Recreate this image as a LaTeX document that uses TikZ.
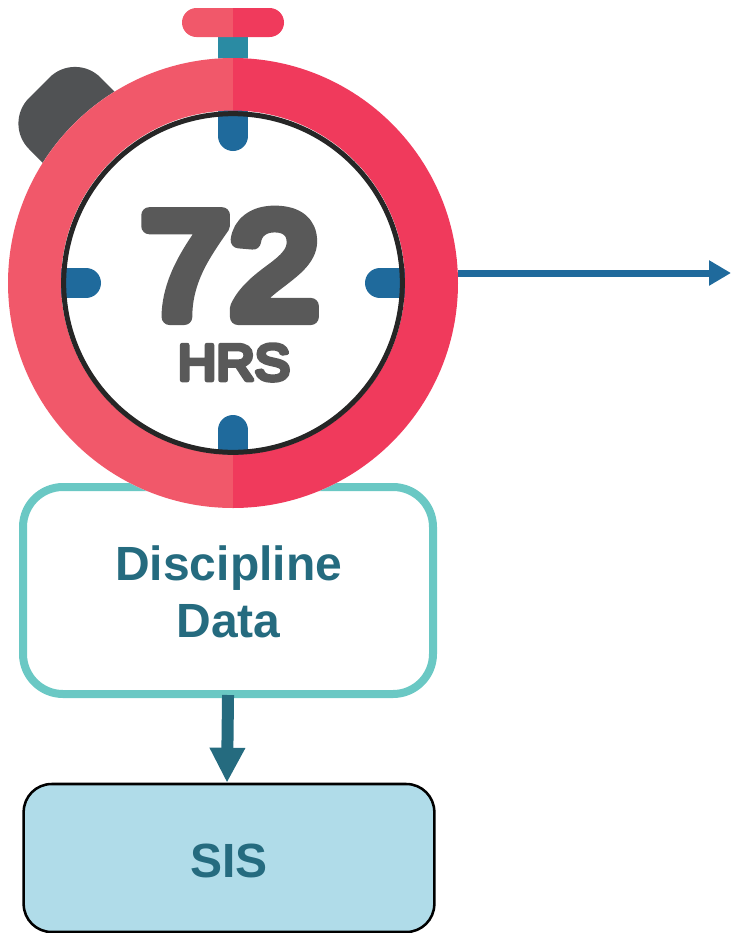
\documentclass[tikz,border=0pt]{standalone}
\usepackage{fontspec}
\setmainfont{Liberation Sans}
\newfontfamily\dialfont[FakeStretch=1.08]{Liberation Sans}
\newfontfamily\hrsfont[FakeStretch=1.05]{Liberation Sans}
\usetikzlibrary{arrows.meta, calc}
\definecolor{ringL}{HTML}{F1586A}
\definecolor{ringR}{HTML}{F03A5C}
\definecolor{stemC}{HTML}{2A8BA3}
\definecolor{tickC}{HTML}{1F6A9C}
\definecolor{knobC}{HTML}{505254}
\definecolor{numC}{HTML}{595959}
\definecolor{dataC}{HTML}{6AC8C4}
\definecolor{arrowC}{HTML}{256B7F}
\definecolor{sisC}{HTML}{B0DCE9}
\newcommand{\roundstroke}[1]{\special{pdf:code 2 Tr #1 w 1 j 1 J 0.349 0.349 0.349 RG}}
\tikzset{
  boxtext/.style = {font=\bfseries\fontsize{36}{43.5}\selectfont, text=arrowC, align=center, inner sep=0pt},
  dialtext/.style = {text=numC, inner sep=0pt, anchor=base},
  tickmark/.style = {draw=tickC, line width=22.5pt, line cap=round},
}

\begin{document}
\begin{tikzpicture}[x=.75pt, y=.75pt, line join=round]
\useasboundingbox (0,0) rectangle (731,-933);
\fill[knobC, rounded corners=27pt] (75,-52) -- (3.5,-123.5) -- (90,-210) -- (161.5,-138.5) -- cycle;
\fill[stemC] (218,-30) rectangle (248,-70);
\fill[ringL] (233,-8) -- (196.5,-8) arc[start angle=90, end angle=270, radius=10.875pt] -- (233,-37) -- cycle;
\fill[ringR] (233,-8) -- (269.5,-8) arc[start angle=90, end angle=-90, radius=10.875pt] -- (233,-37) -- cycle;

\node[draw=dataC, fill=white, line width=6pt, rounded corners=30pt, minimum width=307.5pt, minimum height=155.25pt] (data) at (228,-590.5) {};
\node[boxtext, yshift=-1pt, xshift=.5pt] at (data) {Discipline\\Data};
\node[draw=black, fill=sisC, line width=1.9pt, rounded corners=21pt, minimum width=308pt, minimum height=111pt] (sis) at (229,-858) {};
\node[boxtext, yshift=-2pt] at (sis) {SIS};
\draw[draw=arrowC, line width=9pt, -{Triangle[length=26.25pt, width=25pt]}, shorten <=-2.25pt] (data.south) -- ($(sis.north)+(-2,0)$);

\node[circle, fill=white, inner sep=0pt, minimum size=337.5pt] (dial) at (233,-283) {};
\coordinate (out) at (731,-273);
\draw[draw=tickC, line width=5.25pt, -{Triangle[length=16.5pt, width=18pt]}] (dial.east |- out) -- (out);
\foreach \a in {0,90,180,270}
  \draw[tickmark] ($(dial.center)+(\a:172)$) -- ($(dial.center)+(\a:147)$);
\fill[ringL] (233,-58) arc[start angle=90, end angle=270, radius=168.75pt] -- (233,-454.5) arc[start angle=270, end angle=90, radius=129pt] -- cycle;
\fill[ringR] (233,-58) arc[start angle=90, end angle=-90, radius=168.75pt] -- (233,-454.5) arc[start angle=-90, end angle=90, radius=129pt] -- cycle;
\draw[line width=3.75pt, draw=black!85] (dial.center) circle[radius=127pt];

\node[dialtext] (num) at (230,-317) {\dialfont\fontsize{111}{111}\selectfont\roundstroke{12}72};
\node[dialtext] (hrs) at (234,-380) {\hrsfont\fontsize{38}{38}\selectfont\roundstroke{3.5}HRS};
\end{tikzpicture}
\end{document}
